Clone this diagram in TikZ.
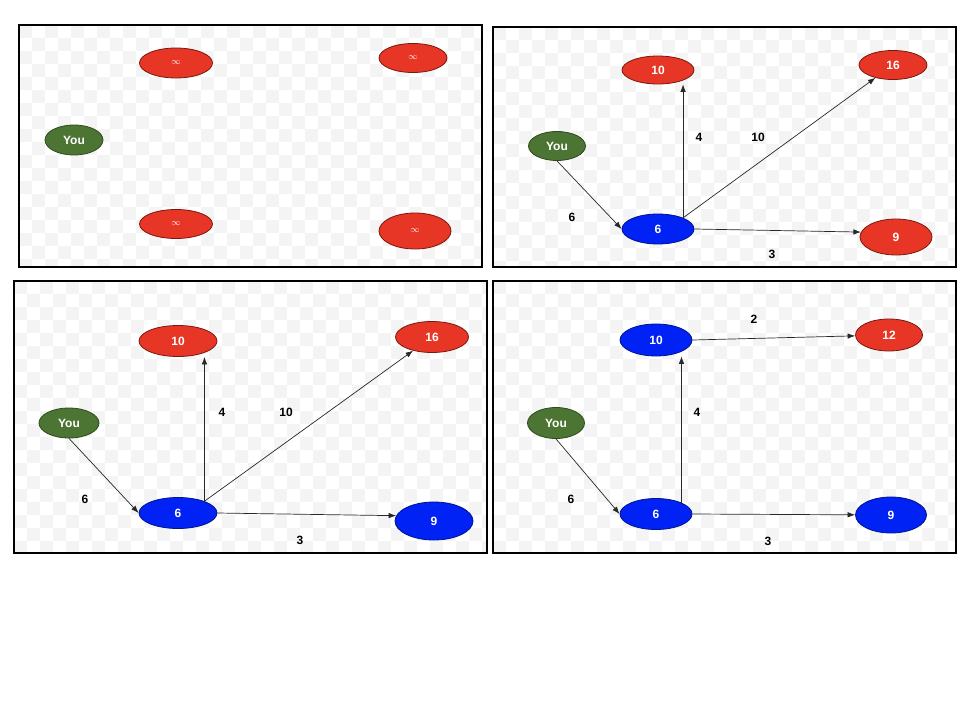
\documentclass[tikz,border=0pt]{standalone}
\usepackage{fontspec}
\newfontfamily\hv{Liberation Sans}
\usetikzlibrary{shapes.geometric,arrows.meta}
\definecolor{rnode}{RGB}{232,54,38}
\definecolor{rline}{RGB}{120,25,15}
\definecolor{bnode}{RGB}{0,34,245}
\definecolor{bline}{RGB}{0,20,140}
\definecolor{gnode}{RGB}{76,116,50}
\definecolor{gline}{RGB}{45,75,28}
\definecolor{ckb}{RGB}{244,244,244}
\definecolor{edgec}{RGB}{40,40,40}
\tikzset{
  vtx/.style={ellipse, inner sep=0pt, line width=0.8pt, text=white,
    font=\hv\bfseries\fontsize{12}{12}\selectfont},
  rv/.style={vtx, fill=rnode, draw=rline},
  bv/.style={vtx, fill=bnode, draw=bline},
  gv/.style={vtx, fill=gnode, draw=gline},
  inf/.style={font=\fontsize{9}{9}\selectfont},
  wlab/.style={font=\hv\bfseries\fontsize{12}{12}\selectfont, text=black, inner sep=0pt},
  edg/.style={draw=edgec, line width=0.7pt, -{Latex[length=7.5pt,width=5.5pt]}},
  panel/.style={draw=black, line width=1.6pt}
}
\newcommand\ckbpanel[4]{%
  \begin{scope}
    \clip (#1,#2) rectangle (#3,#4);
    \foreach \j in {0,...,21}{
      \foreach \i in {0,2,...,38}{
        \fill[ckb] ({#1+(\i+mod(\j,2))*13},{#2+\j*13}) rectangle +(13,13);
      }
    }
  \end{scope}}
\begin{document}
\begin{tikzpicture}[x=1pt,y=-1pt]
\useasboundingbox (0,0) rectangle (960,720);
\fill[white] (0,0) rectangle (960,720);
% checkerboards
\ckbpanel{19}{25}{482}{267}
\ckbpanel{493}{27}{956}{267}
\ckbpanel{14}{281}{487}{553}
\ckbpanel{493}{281}{956}{553}
% panels
\node[panel, inner sep=0pt, minimum width=463pt, minimum height=242pt] (p1) at (250.5,146) {};
\node[panel, inner sep=0pt, minimum width=463pt, minimum height=240pt] (p2) at (724.5,147) {};
\node[panel, inner sep=0pt, minimum width=473pt, minimum height=272pt] (p3) at (250.5,417) {};
\node[panel, inner sep=0pt, minimum width=463pt, minimum height=272pt] (p4) at (724.5,417) {};

% ---------- panel 1 ----------
\node[gv, minimum width=58pt, minimum height=30pt] (y1) at (74,140) {You};
\node[rv, inf, minimum width=73pt, minimum height=30pt] (a1) at (176,63) {$\infty$};
\node[rv, inf, minimum width=68pt, minimum height=29pt] (b1) at (413,58) {$\infty$};
\node[rv, inf, minimum width=73pt, minimum height=29pt] (c1) at (176,224) {$\infty$};
\node[rv, inf, minimum width=72pt, minimum height=36pt] (d1) at (415,231) {$\infty$};

% ---------- panel 2 ----------
\node[gv, minimum width=57pt, minimum height=29pt] (y2) at (557,146) {You};
\node[rv, minimum width=72pt, minimum height=28pt] (t2) at (658,70) {10};
\node[rv, minimum width=68pt, minimum height=29pt] (r2) at (893,65) {16};
\node[bv, minimum width=72pt, minimum height=30pt] (s2) at (658,229) {6};
\node[rv, minimum width=72pt, minimum height=36pt] (n2) at (896,237) {9};
\draw[edg] (y2.south) -- (s2.west);
\draw[edg] (s2.24) -- (s2.24 |- t2.south);
\draw[edg] (s2.24) -- (r2);
\draw[edg] (s2.east) -- (n2.172);
\node[wlab] (l2a) at (572,217) {6};
\node[wlab] (l2b) at (699,137) {4};
\node[wlab] (l2c) at (758,137) {10};
\node[wlab] (l2d) at (772,254) {3};

% ---------- panel 3 ----------
\node[gv, minimum width=60pt, minimum height=30pt] (y3) at (69,423) {You};
\node[rv, minimum width=78pt, minimum height=31pt] (t3) at (178,341) {10};
\node[rv, minimum width=73pt, minimum height=31pt] (r3) at (432,337) {16};
\node[bv, minimum width=78pt, minimum height=31pt] (s3) at (178,513) {6};
\node[bv, minimum width=78pt, minimum height=38pt] (n3) at (434,521) {9};
\draw[edg] (y3.south) -- (s3.west);
\draw[edg] (s3.24) -- (s3.24 |- t3.south);
\draw[edg] (s3.24) -- (r3);
\draw[edg] (s3.east) -- (n3.172);
\node[wlab] (l3a) at (85,499) {6};
\node[wlab] (l3b) at (222,412) {4};
\node[wlab] (l3c) at (286,412) {10};
\node[wlab] (l3d) at (300,540) {3};

% ---------- panel 4 ----------
\node[gv, minimum width=57pt, minimum height=31pt] (y4) at (556,423) {You};
\node[bv, minimum width=72pt, minimum height=32pt] (t4) at (656,340) {10};
\node[rv, minimum width=67pt, minimum height=32pt] (r4) at (889,335) {12};
\node[bv, minimum width=72pt, minimum height=31pt] (s4) at (656,514) {6};
\node[bv, minimum width=71pt, minimum height=36pt] (n4) at (891,515) {9};
\draw[edg] (y4.south) -- (s4.west);
\draw[edg] (s4.24) -- (s4.24 |- t4.south);
\draw[edg] (t4.east) -- (r4);
\draw[edg] (s4.east) -- (n4);
\node[wlab] (l4a) at (571,499) {6};
\node[wlab] (l4b) at (697,412) {4};
\node[wlab] (l4c) at (754,319) {2};
\node[wlab] (l4d) at (768,541) {3};
\end{tikzpicture}
\end{document}
